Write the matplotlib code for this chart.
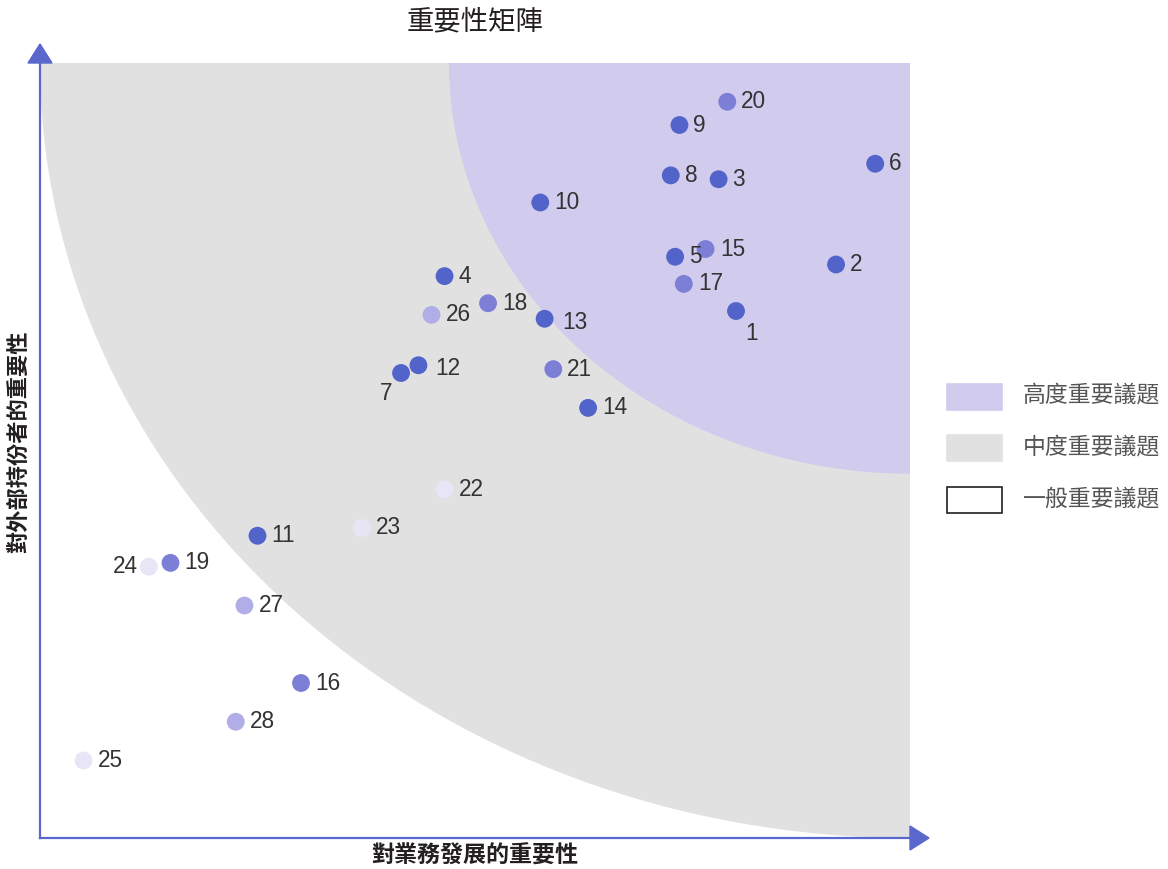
import matplotlib.pyplot as plt
from matplotlib.patches import Circle, Rectangle, Polygon

plt.rcParams['font.family'] = ['Noto Sans CJK TC', 'DejaVu Sans']

# issue id, business importance (x), stakeholder importance (y)
ids = list(range(1, 29))
xs = [8.0, 9.15, 7.8, 4.65, 7.3, 9.6, 4.15, 7.25, 7.35, 5.75,
      2.5, 4.35, 5.8, 6.3, 7.65, 3.0, 7.4, 5.15, 1.5, 7.9,
      5.9, 4.65, 3.7, 1.25, 0.5, 4.5, 2.35, 2.25]
ys = [6.8, 7.4, 8.5, 7.25, 7.5, 8.7, 6.0, 8.55, 9.2, 8.2,
      3.9, 6.1, 6.7, 5.55, 7.6, 2.0, 7.15, 6.9, 3.55, 9.5,
      6.05, 4.5, 4.0, 3.5, 1.0, 6.75, 3.0, 1.5]
# colour level of each dot: 0 dark, 1 medium, 2 light, 3 very light
levels = [0] * 14 + [1, 1, 1, 1, 1, 1, 1, 3, 3, 3, 3, 2, 2, 2]
level_colors = ['#5263c9', '#7c7fd5', '#b1ade6', '#e8e6f6']

# label offsets in pixels (default: right of the dot)
label_offsets = {1: (16, -22, 'center'), 7: (-15, -21, 'center'),
                 24: (-11, 0, 'right'), 13: (18, -4, 'left'),
                 12: (17, -3, 'left'), 15: (15, 0, 'left')}

legend_labels = ['高度重要議題', '中度重要議題', '一般重要議題']
high_color = '#d1cbee'
mid_color = '#e1e1e1'
axis_color = '#5a67cc'


def main():
    fig = plt.figure(figsize=(11.68, 8.69), dpi=100)
    W, H = 1168, 869
    ax = fig.add_axes([40 / W, 31 / H, 870 / W, 775 / H])
    ax.set_xlim(0, 10)
    ax.set_ylim(0, 10)
    for s in ax.spines.values():
        s.set_visible(False)
    ax.set_xticks([])
    ax.set_yticks([])

    # importance zones
    ax.add_patch(Circle((10, 10), 10, color=mid_color, lw=0, zorder=0))
    ax.add_patch(Circle((10, 10), 5.3, color=high_color, lw=0, zorder=1))

    # axes with arrows
    ax.plot([0, 1], [0, 0], transform=ax.transAxes, color=axis_color,
            lw=1.6, clip_on=False, zorder=3)
    ax.plot([0, 0], [0, 1], transform=ax.transAxes, color=axis_color,
            lw=1.6, clip_on=False, zorder=3)
    ax.add_patch(Polygon([(1, 12 / 775), (1 + 19 / 870, 0), (1, -12 / 775)],
                         closed=True, transform=ax.transAxes, color=axis_color,
                         clip_on=False, zorder=3))
    ax.add_patch(Polygon([(-12 / 870, 1), (0, 1 + 19 / 775), (12 / 870, 1)],
                         closed=True, transform=ax.transAxes, color=axis_color,
                         clip_on=False, zorder=3))

    cols = [level_colors[l] for l in levels]
    ax.scatter(xs, ys, s=165, c=cols, linewidths=0, zorder=4, clip_on=False)

    for i, x, y in zip(ids, xs, ys):
        dx, dy, ha = label_offsets.get(i, (14, 0, 'left'))
        ax.annotate(str(i), (x, y), xytext=(dx, dy), textcoords='offset pixels',
                    ha=ha, va='center', fontsize=16.3, color='#333333',
                    family=['Liberation Sans', 'DejaVu Sans'], zorder=5)

    fig.text(475 / W, 1 - 22 / H, '重要性矩陣', ha='center', va='center',
             fontsize=19.7, fontweight='medium', color='#231f20')
    fig.text(475 / W, 1 - 856 / H, '對業務發展的重要性', ha='center', va='center',
             fontsize=16.6, fontweight='bold', color='#231f20')
    fig.text(19 / W, 1 - 442 / H, '對外部持份者的重要性', ha='center', va='center',
             rotation=90, fontsize=16, fontweight='bold', color='#231f20')

    # legend
    fills = [high_color, mid_color, 'white']
    edges = [high_color, mid_color, '#231f20']
    tops = [384, 435, 487]
    for lab, fc, ec, t in zip(legend_labels, fills, edges, tops):
        fig.add_artist(Rectangle((947 / W, 1 - (t + 26) / H), 55 / W, 26 / H,
                                 transform=fig.transFigure, facecolor=fc,
                                 edgecolor=ec, lw=1.2))
        fig.text(1023 / W, 1 - (t + 12) / H, lab, ha='left', va='center',
                 fontsize=16.5, fontweight='light', color='#555555')

    fig.savefig('out.png', dpi=100)


if __name__ == '__main__':
    main()
